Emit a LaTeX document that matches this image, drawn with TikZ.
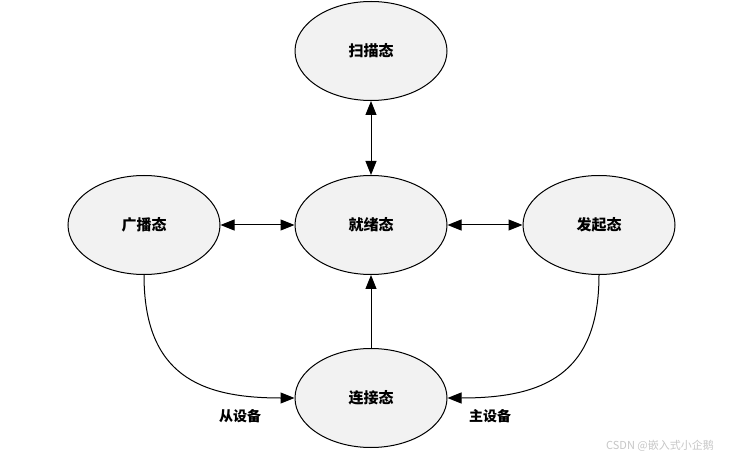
\documentclass[tikz,border=0pt]{standalone}
\usepackage{fontspec}
\newfontfamily\cjk{Noto Sans CJK SC}
\usetikzlibrary{arrows.meta,shapes.geometric}

\tikzset{
  state/.style={ellipse,draw,line width=1pt,fill=gray!10,minimum width=152pt,minimum height=99pt,inner sep=0pt,font=\cjk\bfseries\fontsize{15}{17}\selectfont},
  link/.style={line width=1pt,-{Triangle[length=14pt,width=11pt]}},
  bilink/.style={line width=1pt,{Triangle[length=14pt,width=11pt]}-{Triangle[length=14pt,width=11pt]}},
  tag/.style={inner sep=1pt,font=\cjk\bfseries\fontsize{14}{16}\selectfont}
}

\begin{document}
\begin{tikzpicture}[x=1pt,y=-1pt]
\path[use as bounding box] (0,0) rectangle (736,462);
% states
\node[state] (scan) at (371,51) {扫描态};
\node[state] (adv) at (144,225) {广播态};
\node[state] (ready) at (371,225) {就绪态};
\node[state] (init) at (599,225) {发起态};
\node[state] (conn) at (371,398) {连接态};
% transitions
\draw[bilink] (scan) -- (ready);
\draw[bilink] (adv) -- (ready);
\draw[bilink] (ready) -- (init);
\draw[link] (conn) -- (ready);
\draw[link] (adv.south) .. controls (144,375) and (200,398) .. (conn.west);
\draw[link] (init.south) .. controls (599,375) and (543,398) .. (conn.east);
\node[tag] (slave) at (240,416) {从设备};
\node[tag] (master) at (490,416) {主设备};
% watermark
\node[inner sep=0pt,text=gray!45,font=\cjk\fontsize{11}{13}\selectfont] (mark) at (660,446) {CSDN @嵌入式小企鹅};
\end{tikzpicture}
\end{document}
